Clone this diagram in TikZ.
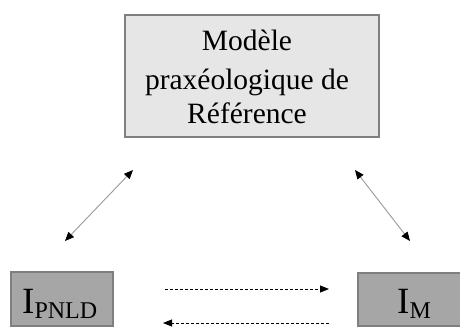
\documentclass[tikz,border=0pt]{standalone}
\usepackage{fontspec}
\setmainfont{Liberation Serif}
\usetikzlibrary{arrows.meta}
\definecolor{boxline}{HTML}{7F7F7F}
\definecolor{lightfill}{HTML}{E6E6E6}
\definecolor{darkfill}{HTML}{A6A6A6}
\tikzset{
  topbox/.style={draw=boxline, line width=1.6pt, fill=lightfill},
  lowbox/.style={draw=boxline, line width=1.6pt, fill=darkfill},
  txt/.style={inner sep=0pt, anchor=base, font=\fontsize{29.5}{34}\selectfont},
  bigtxt/.style={inner sep=0pt, anchor=base west, font=\fontsize{37}{40}\selectfont},
  diag/.style={draw=black!40, line width=0.9pt, {Triangle[length=9pt,width=7.5pt,color=black]}-{Triangle[length=9pt,width=7.5pt,color=black]}},
  dasharrow/.style={draw=black, line width=0.8pt, dash pattern=on 3pt off 2pt, -{Triangle[length=9pt,width=7pt]}}
}
\begin{document}
\begin{tikzpicture}[x=1pt,y=-1pt]
\useasboundingbox (0,0) rectangle (460,327);
% top box
\draw[topbox] (125,15) rectangle (379,137);
\node[txt] (t1) at (247,50) {Modèle};
\node[txt] (t2) at (247,89) {praxéologique de};
\node[txt] (t3) at (247,123) {Référence};
% bottom boxes
\draw[lowbox] (11,272) rectangle (113,326);
\node[bigtxt] (ip) at (22,313) {I\raisebox{-5pt}{\fontsize{24}{26}\selectfont PNLD}};
\draw[lowbox] (358,273) rectangle (464,326);
\node[bigtxt] (im) at (397,313) {I\raisebox{-5pt}{\fontsize{24}{26}\selectfont M}};
% connector ends
\coordinate (la) at (133,170);
\coordinate (lb) at (65,241);
\coordinate (ra) at (355,170);
\coordinate (rb) at (410,241);
\coordinate (d1a) at (165,289);
\coordinate (d1b) at (329,289);
\coordinate (d2a) at (329,323);
\coordinate (d2b) at (163,323);
\draw[diag] (lb) -- (la);
\draw[diag] (ra) -- (rb);
\draw[dasharrow] (d1a) -- (d1b);
\draw[dasharrow] (d2a) -- (d2b);
\end{tikzpicture}
\end{document}
